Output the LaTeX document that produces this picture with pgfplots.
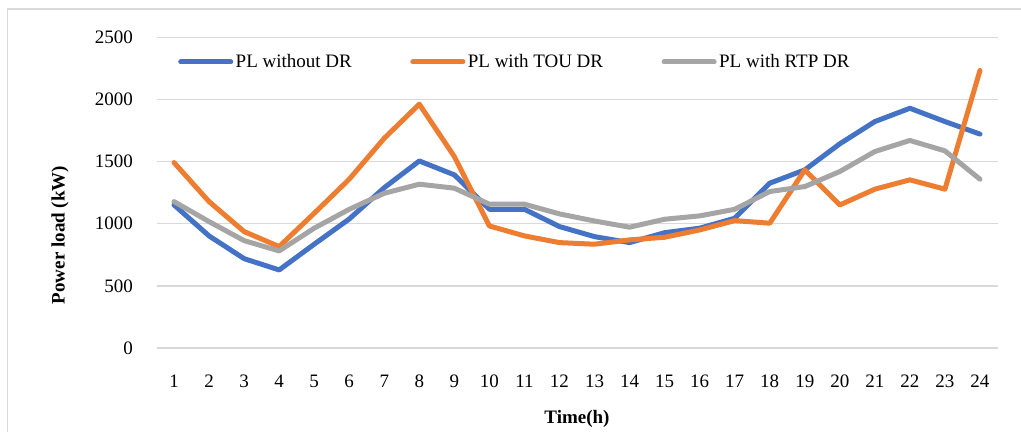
\documentclass[border=0pt]{standalone}
\usepackage{fontspec}
\setmainfont{Liberation Serif}
\usepackage{pgfplots}
\pgfplotsset{compat=1.18}
\definecolor{cblue}{HTML}{4472C4}
\definecolor{corange}{HTML}{ED7D31}
\definecolor{cgray}{HTML}{A5A5A5}
\definecolor{cgrid}{HTML}{D9D9D9}
\newcommand{\fs}{\fontsize{19bp}{22bp}\selectfont}
\begin{document}
\begin{tikzpicture}
\path[use as bounding box] (0,0) rectangle (1021bp,432bp);
\draw[cgrid, line width=1.3bp] (7.5bp,-2bp) -- (7.5bp,423bp) -- (1023bp,423bp);
\begin{axis}[
  at={(156.5bp,84bp)}, anchor=south west,
  scale only axis, width=841bp, height=310.7bp,
  xmin=0.5, xmax=24.5, ymin=0, ymax=2500,
  xtick={1,...,24}, ytick={0,500,...,2500},
  axis line style={draw=none},
  major tick length=0pt,
  ymajorgrids, grid style={cgrid, line width=1.3bp},
  /pgf/number format/assume math mode=true,
  /pgf/number format/1000 sep={},
  tick label style={font=\fs},
  yticklabel style={inner sep=0pt, anchor=east, xshift=-23.5bp},
  xticklabel style={inner sep=0pt, anchor=north, yshift=-27bp},
  ylabel={\textbf{Power load (kW)}},
  xlabel={\textbf{Time(h)}},
  label style={font=\fs},
  ylabel style={at={(axis description cs:-0.1147,0.3637)}, anchor=center},
  xlabel style={at={(axis description cs:0.5,0)}, anchor=center, yshift=-71bp},
  legend columns=3,
  legend style={at={(axis description cs:0.0256,0.9205)}, anchor=west, draw=none, fill=none, inner sep=0pt,
    font=\fs, /tikz/every even column/.append style={column sep=56bp},
    nodes={inner sep=2.5bp}},
  legend image code/.code={\draw[#1, line cap=round] (0bp,0bp) -- (50bp,0bp);},
  every axis plot/.append style={line width=5bp, line join=round, line cap=round},
]
\addplot[cblue] coordinates {
(1,1151)(2,902)(3,719)(4,628)(5,835)(6,1038)(7,1290)(8,1505)(9,1393)(10,1116)(11,1116)(12,977)(13,896)
(14,848)(15,928)(16,964)(17,1044)(18,1326)(19,1433)(20,1643)(21,1822)(22,1929)(23,1822)(24,1721)};
\addlegendentry{PL without DR}
\addplot[corange] coordinates {
(1,1492)(2,1178)(3,937)(4,816)(5,1084)(6,1358)(7,1688)(8,1962)(9,1540)(10,982)(11,902)(12,848)(13,835)
(14,870)(15,891)(16,950)(17,1025)(18,1004)(19,1433)(20,1151)(21,1278)(22,1353)(23,1278)(24,2233)};
\addlegendentry{PL with TOU DR}
\addplot[cgray] coordinates {
(1,1178)(2,1017)(3,864)(4,781)(5,964)(6,1116)(7,1245)(8,1318)(9,1286)(10,1157)(11,1157)(12,1079)(13,1022)
(14,972)(15,1036)(16,1063)(17,1116)(18,1259)(19,1299)(20,1420)(21,1581)(22,1670)(23,1586)(24,1358)};
\addlegendentry{PL with RTP DR}
\end{axis}
\end{tikzpicture}
\end{document}
